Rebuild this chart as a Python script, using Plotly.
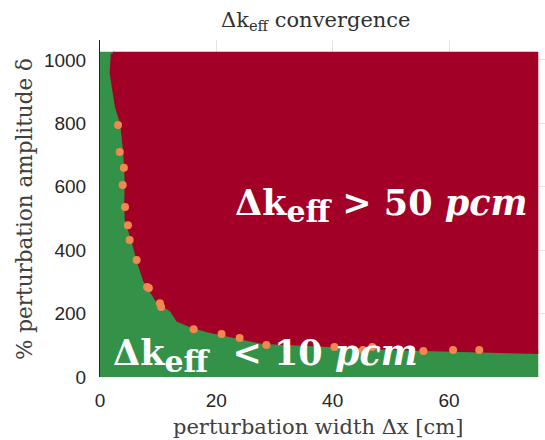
import plotly.graph_objects as go

# Boundary between the converged (green) and non-converged (red) regions
boundary_x = [2.2, 2.0, 2.9, 3.8, 4.3, 4.6, 4.5, 4.6, 5.7, 6.6, 7.7, 9.8, 12.3, 13.4, 16.0, 19.0, 22.3, 28.0, 39.5, 51.0, 62.0, 75.0]
boundary_y = [1020, 959, 852, 800, 716, 612, 550, 495, 432, 369, 306, 243, 211, 180, 160, 145, 132, 110, 101, 91, 85, 79]

x_min, x_max = 0.0, 75.0
y_min, y_max = 0.0, 1020.0

# Intermediate (10-50 pcm) samples along the boundary
orange_x = [3.1, 3.4, 4.1, 3.9, 4.3, 4.8, 5.1, 6.3, 8.1, 8.4, 10.3, 10.5, 16.1, 20.9, 24.0, 28.6, 40.3, 45.2, 46.8, 55.6, 60.7, 65.2]
orange_y = [795, 710, 660, 606, 536, 479, 432, 369, 284, 281, 233, 221, 151, 136, 123, 101, 95, 85, 95, 82, 85, 85]

x_ticks = [0, 20, 40, 60]
y_ticks = [0, 200, 400, 600, 800, 1000]

RED = "rgb(162,0,38)"
GREEN = "rgb(52,146,72)"
ORANGE = "rgb(242,135,82)"

fig = go.Figure()

# green region: left/bottom of boundary
gx = [x_min, x_max, x_max] + boundary_x[::-1] + [x_min, x_min]
gy = [y_min, y_min, boundary_y[-1]] + boundary_y[::-1] + [y_max, y_min]
fig.add_trace(go.Scatter(x=gx, y=gy, fill="toself", fillcolor=GREEN, mode="lines",
                         line=dict(color=GREEN, width=4), hoverinfo="skip", showlegend=False))

# red region: above/right of boundary
rx = boundary_x + [x_max, boundary_x[0]]
ry = boundary_y + [y_max, y_max]
fig.add_trace(go.Scatter(x=rx, y=ry, fill="toself", fillcolor=RED, mode="lines",
                         line=dict(color=RED, width=4), hoverinfo="skip", showlegend=False))

fig.add_trace(go.Scatter(x=orange_x, y=orange_y, mode="markers",
                         marker=dict(color=ORANGE, size=8, line=dict(width=0)),
                         hoverinfo="skip", showlegend=False))

serif = "DejaVu Serif, Liberation Serif, serif"
big = 35
sub = '<sub><span style="font-size:30px">eff</span></sub>'
fig.add_annotation(x=22.8, y=540, xref="x", yref="y", xanchor="left", yanchor="middle",
                   text=f"<b>Δk{sub} > 50 <i>pcm</i></b>", showarrow=False,
                   font=dict(family=serif, size=big, color="white"))
fig.add_annotation(x=1.9, y=69, xref="x", yref="y", xanchor="left", yanchor="middle",
                   text=f"<b>Δk{sub}  < 10 <i>pcm</i></b>", showarrow=False,
                   font=dict(family=serif, size=big, color="white"))

# plot area in pixels: x 100..545, y 40..377
def px(x):
    return (x - 100) / 445.0

def py(y):
    return (377 - y) / 337.0

fig.add_annotation(x=px(316), y=py(21), xref="paper", yref="paper", xanchor="center", yanchor="middle",
                   text="Δk<sub>eff</sub> convergence", showarrow=False,
                   font=dict(family=serif, size=21, color="#303030"))
fig.add_annotation(x=px(318), y=py(427), xref="paper", yref="paper", xanchor="center", yanchor="middle",
                   text="perturbation width Δx [cm]", showarrow=False,
                   font=dict(family=serif, size=21, color="#404040"))
fig.add_annotation(x=px(24), y=py(209), xref="paper", yref="paper", xanchor="center", yanchor="middle",
                   text="% perturbation amplitude δ", showarrow=False, textangle=-90,
                   font=dict(family=serif, size=21.5, color="#404040"))

fig.update_layout(
    width=545, height=440,
    margin=dict(l=100, r=0, t=40, b=63),
    paper_bgcolor="white", plot_bgcolor="white",
    xaxis=dict(range=[0, 76.5], tickvals=x_ticks, showgrid=True, gridcolor="#e3e3e3", zeroline=False,
               showline=False, ticks="", ticklabelstandoff=10,
               tickfont=dict(family="Liberation Sans, Arial, sans-serif", size=19, color="#262626")),
    yaxis=dict(range=[0, 1063], tickvals=y_ticks, showgrid=True, gridcolor="#e3e3e3", zeroline=False,
               showline=True, linecolor="#262626", linewidth=1, ticks="", ticklabelstandoff=9,
               tickfont=dict(family="Liberation Sans, Arial, sans-serif", size=19, color="#262626")),
)
fig.write_html("out.html")
